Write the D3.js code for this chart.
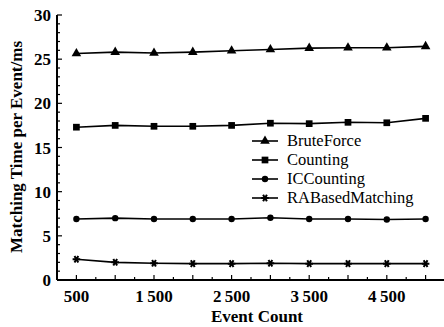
<!DOCTYPE html>
<html>
<head>
<meta charset="utf-8">
<script src="https://cdn.jsdelivr.net/npm/d3@7"></script>
<style>
  body { margin: 0; background: #fff; }
</style>
</head>
<body>
<div id="chart"></div>
<script>
const eventCounts = [500, 1000, 1500, 2000, 2500, 3000, 3500, 4000, 4500, 5000];
const bruteForce = [25.65, 25.8, 25.7, 25.8, 25.95, 26.1, 26.25, 26.3, 26.3, 26.45];
const counting = [17.3, 17.5, 17.4, 17.4, 17.5, 17.75, 17.7, 17.85, 17.8, 18.3];
const icCounting = [6.9, 7.0, 6.9, 6.9, 6.9, 7.05, 6.9, 6.9, 6.85, 6.9];
const raBased = [2.35, 2.0, 1.9, 1.85, 1.85, 1.9, 1.85, 1.85, 1.85, 1.85];
const xTickLabels = [500, 1500, 2500, 3500, 4500];
const yTickLabels = [0, 5, 10, 15, 20, 25, 30];

const series = [
  {name: 'BruteForce', values: bruteForce, marker: 'triangle'},
  {name: 'Counting', values: counting, marker: 'square'},
  {name: 'ICCounting', values: icCounting, marker: 'circle'},
  {name: 'RABasedMatching', values: raBased, marker: 'star'}
];

const width = 444, height = 327;
const serif = "'Liberation Serif', 'Times New Roman', 'DejaVu Serif', serif";

const svg = d3.select('#chart').append('svg')
  .attr('width', width)
  .attr('height', height)
  .attr('font-family', serif);

const x = d3.scaleLinear().domain([250, 5250]).range([57, 445]);
const y = d3.scaleLinear().domain([0, 30]).range([280, 15]);

// axes lines
svg.append('line')
  .attr('x1', x(250)).attr('x2', x(5250))
  .attr('y1', y(0)).attr('y2', y(0))
  .attr('stroke', '#000').attr('stroke-width', 2);
svg.append('line')
  .attr('x1', x(250)).attr('x2', x(250))
  .attr('y1', y(0)).attr('y2', y(30))
  .attr('stroke', '#000').attr('stroke-width', 2);

// x ticks (inward)
const xTicks = d3.range(500, 5251, 250);
svg.selectAll('.xtick')
  .data(xTicks)
  .enter().append('line')
  .attr('x1', d => x(d)).attr('x2', d => x(d))
  .attr('y1', y(0))
  .attr('y2', d => y(0) - (d % 500 === 0 ? 5 : 3))
  .attr('stroke', '#000').attr('stroke-width', 1.2);

svg.selectAll('.xlabel')
  .data(xTickLabels)
  .enter().append('text')
  .attr('x', d => x(d))
  .attr('y', y(0) + 22)
  .attr('text-anchor', 'middle')
  .attr('font-family', serif)
  .attr('font-size', 17)
  .attr('font-weight', 'bold')
  .text(d => d >= 1000 ? Math.floor(d / 1000) + '\u2009' + d3.format('03d')(d % 1000) : d);

// y ticks (inward)
const yTicks = d3.range(0, 31, 1);
svg.selectAll('.ytick')
  .data(yTicks)
  .enter().append('line')
  .attr('x1', x(250))
  .attr('x2', d => x(250) + (d % 5 === 0 ? 5 : 3))
  .attr('y1', d => y(d)).attr('y2', d => y(d))
  .attr('stroke', '#000').attr('stroke-width', 1.2);

svg.selectAll('.ylabel')
  .data(yTickLabels)
  .enter().append('text')
  .attr('x', x(250) - 6)
  .attr('y', d => y(d) + 6)
  .attr('text-anchor', 'end')
  .attr('font-family', serif)
  .attr('font-size', 17)
  .attr('font-weight', 'bold')
  .text(d => d);

// axis titles
svg.append('text')
  .attr('x', 257)
  .attr('y', 322)
  .attr('text-anchor', 'middle')
  .attr('font-family', serif)
  .attr('font-size', 17)
  .attr('font-weight', 'bold')
  .text('Event Count');

svg.append('text')
  .attr('transform', `translate(22,147) rotate(-90)`)
  .attr('text-anchor', 'middle')
  .attr('font-family', serif)
  .attr('font-size', 17)
  .attr('font-weight', 'bold')
  .text('Matching Time per Event/ms');

function drawMarker(g, type, cx, cy) {
  if (type === 'triangle') {
    g.append('path')
      .attr('d', d3.symbol().type(d3.symbolTriangle).size(40)())
      .attr('transform', `translate(${cx},${cy})`)
      .attr('fill', '#000');
  } else if (type === 'square') {
    g.append('path')
      .attr('d', d3.symbol().type(d3.symbolSquare).size(45)())
      .attr('transform', `translate(${cx},${cy})`)
      .attr('fill', '#000');
  } else if (type === 'circle') {
    g.append('path')
      .attr('d', d3.symbol().type(d3.symbolCircle).size(32)())
      .attr('transform', `translate(${cx},${cy})`)
      .attr('fill', '#000');
  } else {
    g.append('path')
      .attr('d', d3.symbol().type(d3.symbolAsterisk).size(40)())
      .attr('transform', `translate(${cx},${cy}) rotate(90)`)
      .attr('fill', 'none')
      .attr('stroke', '#000')
      .attr('stroke-width', 2);
  }
}

const line = d3.line()
  .x((d, i) => x(eventCounts[i]))
  .y(d => y(d));

series.forEach(s => {
  const g = svg.append('g');
  g.append('path')
    .datum(s.values)
    .attr('d', line)
    .attr('fill', 'none')
    .attr('stroke', '#000')
    .attr('stroke-width', 1.6);
  s.values.forEach((v, i) => drawMarker(g, s.marker, x(eventCounts[i]), y(v)));
});

// legend
const legend = svg.append('g');
series.forEach((s, i) => {
  const ly = 141 + i * 19;
  legend.append('line')
    .attr('x1', 252).attr('x2', 278)
    .attr('y1', ly).attr('y2', ly)
    .attr('stroke', '#000').attr('stroke-width', 1.6);
  drawMarker(legend, s.marker, 265, ly);
  legend.append('text')
    .attr('x', 287)
    .attr('y', ly + 5)
    .attr('font-family', serif)
    .attr('font-size', 16.5)
    .text(s.name);
});
</script>
</body>
</html>
